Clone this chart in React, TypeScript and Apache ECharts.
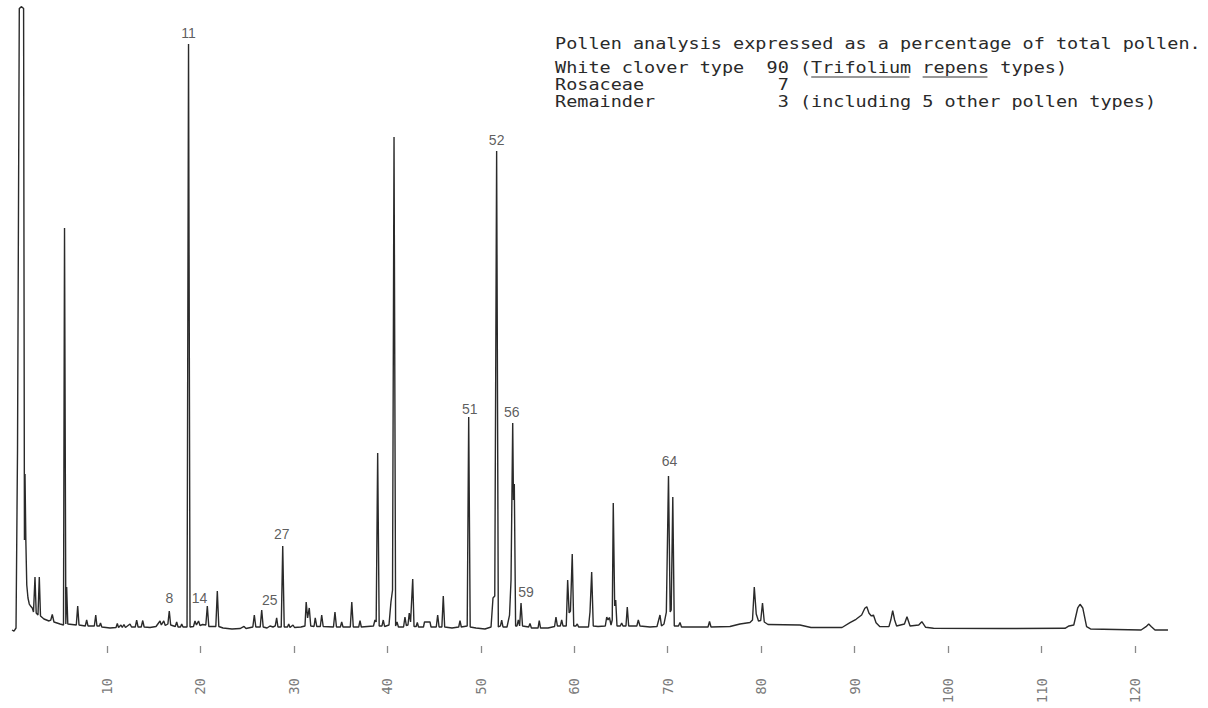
import React, { useEffect, useRef } from 'react';
import * as echarts from 'echarts';

// Chromatogram trace: [retention time, detector response (% of full scale)]
const traceSolventFront: [number, number][] = [
  [-0.17, 2.5], [0.04, 2.34], [0.26, 2.81], [0.42, 30.63], [0.61, 99.6], [0.85, 99.9], [1.07, 99.6],
  [1.16, 16.56], [1.22, 26.88], [1.31, 16.56], [1.41, 9.53], [1.54, 7.5], [1.68, 6.56],
  [1.81, 6.25], [2.0, 5.94], [2.13, 5.31], [2.29, 10.78], [2.42, 5.16], [2.61, 4.84], [2.75, 10.78],
  [2.88, 4.69], [3.25, 4.22], [3.79, 3.91], [3.98, 4.06], [4.14, 4.92], [4.32, 3.75], [4.97, 3.44],
  [5.34, 3.28],
];

const traceEarly: [number, number][] = [
  [5.45, 65.31], [5.59, 3.44], [5.68, 9.22], [5.8, 3.44], [6.71, 3.28], [6.86, 6.25], [7.0, 3.28],
  [7.67, 3.13], [7.82, 4.06], [7.96, 3.13], [8.64, 3.13], [8.79, 4.84], [8.92, 3.13], [9.19, 3.13],
  [9.3, 3.59], [9.44, 2.97], [10.32, 2.81], [10.96, 2.89], [11.1, 3.52], [11.23, 2.89], [11.49, 3.28],
  [11.63, 2.89], [11.81, 3.36], [11.97, 2.89], [12.46, 3.44], [12.62, 2.97], [13.02, 2.97], [13.17, 4.06],
  [13.32, 2.97], [13.66, 2.97], [13.82, 3.98], [13.97, 2.97], [14.6, 2.89], [15.24, 3.05], [15.67, 3.91],
  [15.81, 3.28], [16.07, 3.91], [16.23, 3.2], [16.51, 3.44], [16.66, 5.47], [16.81, 3.28], [17.3, 3.05],
  [17.45, 3.75], [17.6, 2.97], [17.86, 2.97], [17.99, 3.44], [18.13, 2.97], [18.56, 2.97], [18.72, 94.06],
  [18.88, 2.97], [19.25, 3.05], [19.41, 3.91], [19.57, 3.28], [19.79, 3.91], [19.95, 3.2], [20.21, 3.36],
  [20.57, 3.28], [20.73, 6.25], [20.89, 3.05], [21.64, 3.05], [21.8, 8.59], [21.96, 3.05],
];

const traceMiddle: [number, number][] = [
  [22.41, 2.81], [23.37, 2.66], [24.23, 2.73], [24.66, 3.05], [24.87, 2.73], [25.6, 2.97], [25.76, 4.84],
  [25.92, 2.97], [26.39, 2.97], [26.55, 5.63], [26.71, 2.97], [27.12, 2.81], [27.44, 3.13], [27.76, 2.97],
  [28.0, 3.13], [28.15, 4.38], [28.29, 2.97], [28.64, 2.97], [28.8, 15.63], [28.96, 2.97], [29.31, 2.97],
  [29.44, 3.44], [29.58, 2.89], [29.9, 3.28], [30.06, 2.89], [30.75, 2.97], [31.18, 3.13], [31.31, 6.88],
  [31.46, 4.38], [31.64, 5.94], [31.8, 3.13], [32.15, 3.05], [32.28, 4.38], [32.44, 3.05], [32.82, 3.05],
  [32.97, 4.84], [33.13, 3.05], [34.23, 2.97], [34.39, 5.31], [34.55, 2.97], [34.97, 2.97], [35.11, 3.75],
  [35.25, 2.97], [36.03, 2.97], [36.19, 6.88], [36.35, 2.97], [36.93, 2.97], [37.07, 3.98], [37.21, 2.97],
  [38.51, 3.13], [38.67, 4.06], [38.8, 3.75], [38.96, 30.16], [39.12, 3.13], [39.42, 3.13], [39.56, 4.06],
  [39.7, 3.05], [40.17, 3.28], [40.38, 6.88], [40.55, 8.75], [40.71, 79.53], [40.88, 3.13], [41.03, 3.75],
  [41.18, 2.97],
];

const traceLate: [number, number][] = [
  [41.73, 2.97], [41.88, 4.53], [42.03, 3.2], [42.2, 3.28], [42.34, 5.16], [42.48, 3.75], [42.71, 10.47],
  [42.85, 3.05], [43.08, 3.05], [43.2, 3.67], [43.33, 2.97], [43.86, 2.97], [43.97, 3.75], [44.56, 3.75],
  [44.67, 2.97], [45.23, 2.97], [45.38, 4.84], [45.53, 2.97], [45.83, 2.97], [45.98, 7.81], [46.13, 2.97],
  [46.91, 2.81], [47.63, 2.97], [47.77, 3.98], [47.91, 2.97], [48.54, 3.13], [48.7, 35.78], [48.86, 2.97],
  [49.48, 2.81], [50.44, 2.66], [51.09, 2.97], [51.3, 7.5], [51.49, 7.81], [51.69, 77.34], [51.87, 2.97],
  [52.1, 3.13], [52.23, 4.06], [52.37, 2.97], [52.8, 2.97], [53.07, 4.84], [53.23, 10.31], [53.41, 34.84],
  [53.49, 22.81], [53.58, 25.31], [53.72, 3.13], [53.87, 3.13], [54.01, 4.06], [54.15, 3.13], [54.3, 6.72],
  [54.46, 3.13], [55.12, 2.97], [55.26, 3.52], [55.41, 2.81], [56.12, 2.81], [56.25, 3.98], [56.39, 2.81],
  [57.19, 2.81], [57.89, 3.05], [58.04, 4.53], [58.19, 3.13], [58.51, 3.13], [58.65, 4.06], [58.79, 3.13],
  [59.14, 3.13], [59.29, 10.31], [59.45, 5.16], [59.59, 5.47], [59.78, 14.38], [59.94, 3.13], [60.18, 3.13],
  [60.32, 3.44], [60.46, 2.97], [61.52, 2.97], [61.68, 5.31], [61.86, 11.56], [62.03, 3.13], [62.54, 3.05],
];

const traceTailA: [number, number][] = [
  [63.32, 3.13], [63.47, 4.53], [63.61, 4.06], [63.76, 4.45], [63.93, 3.28], [64.06, 4.06], [64.17, 22.34],
  [64.32, 6.25], [64.43, 7.19], [64.57, 3.13], [64.92, 3.13], [65.07, 3.59], [65.21, 3.13], [65.53, 3.13],
  [65.67, 6.09], [65.82, 3.13], [66.69, 3.13], [66.85, 4.06], [67.03, 3.13], [68.1, 2.97], [68.85, 3.05],
  [69.17, 4.84], [69.33, 3.13], [69.6, 3.44], [69.85, 5.31], [70.08, 26.56], [70.26, 5.31], [70.37, 5.63],
  [70.54, 23.28], [70.7, 3.13], [71.15, 3.13], [71.31, 3.67], [71.47, 2.97], [73.45, 2.97], [74.31, 2.97],
  [74.47, 3.83], [74.63, 2.97], [76.66, 3.05], [77.73, 3.44], [78.8, 3.67], [79.07, 4.06], [79.26, 9.22],
  [79.47, 5.0], [79.71, 3.91], [79.95, 3.98], [80.14, 6.72], [80.33, 3.75], [80.73, 3.36], [84.15, 3.28],
  [85.33, 2.89], [88.65, 2.89],
];

const traceTailB: [number, number][] = [
  [89.5, 3.64], [90.15, 4.17], [90.75, 4.84], [91.09, 5.89], [91.3, 6.14], [91.54, 5.11], [91.79, 4.69],
  [92.01, 4.84], [92.29, 3.64], [92.71, 3.02], [93.67, 3.02], [93.87, 4.06], [94.07, 5.52], [94.28, 4.06],
  [94.49, 3.13], [95.33, 3.44], [95.6, 4.58], [95.93, 3.13], [96.86, 3.28], [97.19, 3.8], [97.6, 2.92],
  [98.44, 2.77], [105.56, 2.73], [112.51, 2.77], [112.94, 3.13], [113.45, 3.28], [113.87, 5.94],
  [114.12, 6.52], [114.41, 5.94], [114.82, 3.02], [115.24, 2.66], [120.65, 2.5], [121.18, 3.02],
  [121.47, 3.44], [121.76, 3.02], [122.14, 2.5], [123.53, 2.5],
];

const tickValues = [10, 20, 30, 40, 50, 60, 70, 80, 90, 100, 110, 120];

// Numbered peaks and the retention times they sit on
const peakNumbers = ['8', '11', '14', '25', '27', '51', '52', '56', '59', '64'];
const peakTimes = [16.66, 18.72, 19.79, 28.15, 28.8, 48.7, 51.69, 53.41, 54.3, 70.08];

const headerLine = 'Pollen analysis expressed as a percentage of total pollen.';
const pollenTypes = ['White clover type', 'Rosaceae', 'Remainder'];
const pollenPercent = [90, 7, 3];
const pollenNotes = ['(Trifolium repens types)', '', '(including 5 other pollen types)'];
const underlinedWords = ['Trifolium', 'repens'];

// label nudges (styling only)
const labelNudge: Record<string, [number, number]> = {
  '8': [0, -2],
  '14': [1, -12],
  '25': [-7, -7],
  '27': [-1, -1],
  '51': [1, 3],
  '56': [-1, 0],
  '59': [5, 0],
  '64': [1, -4],
};

export default function App() {
  const ref = useRef<HTMLDivElement>(null);

  useEffect(() => {
    if (!ref.current) return;
    const chart = echarts.init(ref.current, undefined, { renderer: 'svg' });

    const trace = [
      ...traceSolventFront,
      ...traceEarly,
      ...traceMiddle,
      ...traceLate,
      ...traceTailA,
      ...traceTailB,
    ];

    const peakData = peakNumbers.map((num, i) => {
      const t = peakTimes[i];
      const pt = trace.find((p) => p[0] === t) || [t, 0];
      const nudge = labelNudge[num] || [0, 0];
      return {
        name: num,
        value: [pt[0], pt[1]],
        label: { offset: nudge },
      };
    });

    // typewriter-like block: narrow glyph size, wide pitch
    const fontSize = 15;
    const pitch = 11.14;
    const stretch = pitch / (fontSize * 0.602);
    const textX = 555;
    const lineYs = [44, 68, 85, 102];
    const tableLines = pollenTypes.map(
      (t, i) =>
        t.padEnd(19) + String(pollenPercent[i]).padStart(2) + (pollenNotes[i] ? ' ' + pollenNotes[i] : '')
    );
    const allLines = [headerLine, ...tableLines];

    const graphics: any[] = allLines.map((txt, i) => ({
      type: 'text',
      x: textX,
      y: lineYs[i],
      scaleX: stretch,
      silent: true,
      style: {
        text: txt,
        fill: '#2a2a2a',
        font: `${fontSize}px "DejaVu Sans Mono", monospace`,
        verticalAlign: 'middle',
        align: 'left',
      },
    }));

    underlinedWords.forEach((w) => {
      const line = tableLines[0];
      const col = line.indexOf(w);
      if (col < 0) return;
      graphics.push({
        type: 'line',
        silent: true,
        shape: {
          x1: textX + col * pitch,
          y1: lineYs[1] + 9,
          x2: textX + (col + w.length) * pitch - 2,
          y2: lineYs[1] + 9,
        },
        style: { stroke: '#333', lineWidth: 1.2 },
      });
    });

    const option: any = {
      animation: false,
      backgroundColor: '#ffffff',
      grid: { left: 4.25, right: 26.28, top: 6, bottom: 62, containLabel: false },
      xAxis: {
        type: 'value',
        min: -1,
        max: 125,
        axisLine: { show: false },
        axisTick: {
          show: true,
          inside: false,
          length: 7,
          customValues: tickValues,
          lineStyle: { color: '#8a8a8a', width: 1.3 },
        },
        axisLabel: {
          show: true,
          customValues: tickValues,
          rotate: 90,
          margin: 32,
          fontFamily: '"DejaVu Sans Mono", monospace',
          fontSize: 14,
          color: '#7a7a7a',
        },
        splitLine: { show: false },
      },
      yAxis: { type: 'value', min: 0, max: 100, show: false, splitLine: { show: false } },
      series: [
        {
          type: 'line',
          data: trace,
          showSymbol: false,
          silent: true,
          lineStyle: { color: '#2a2a2a', width: 1.4 },
        },
        {
          type: 'scatter',
          data: peakData,
          symbolSize: 0,
          silent: true,
          label: {
            show: true,
            position: 'top',
            distance: 4,
            formatter: '{b}',
            fontFamily: '"Liberation Sans", Arial, sans-serif',
            fontSize: 14,
            color: '#333',
          },
        },
      ],
      graphic: graphics,
    };

    chart.setOption(option);
    return () => chart.dispose();
  }, []);

  return (
    <div
      ref={ref}
      style={{ position: 'fixed', left: 0, top: 0, width: 1208, height: 708, background: '#fff' }}
    />
  );
}
